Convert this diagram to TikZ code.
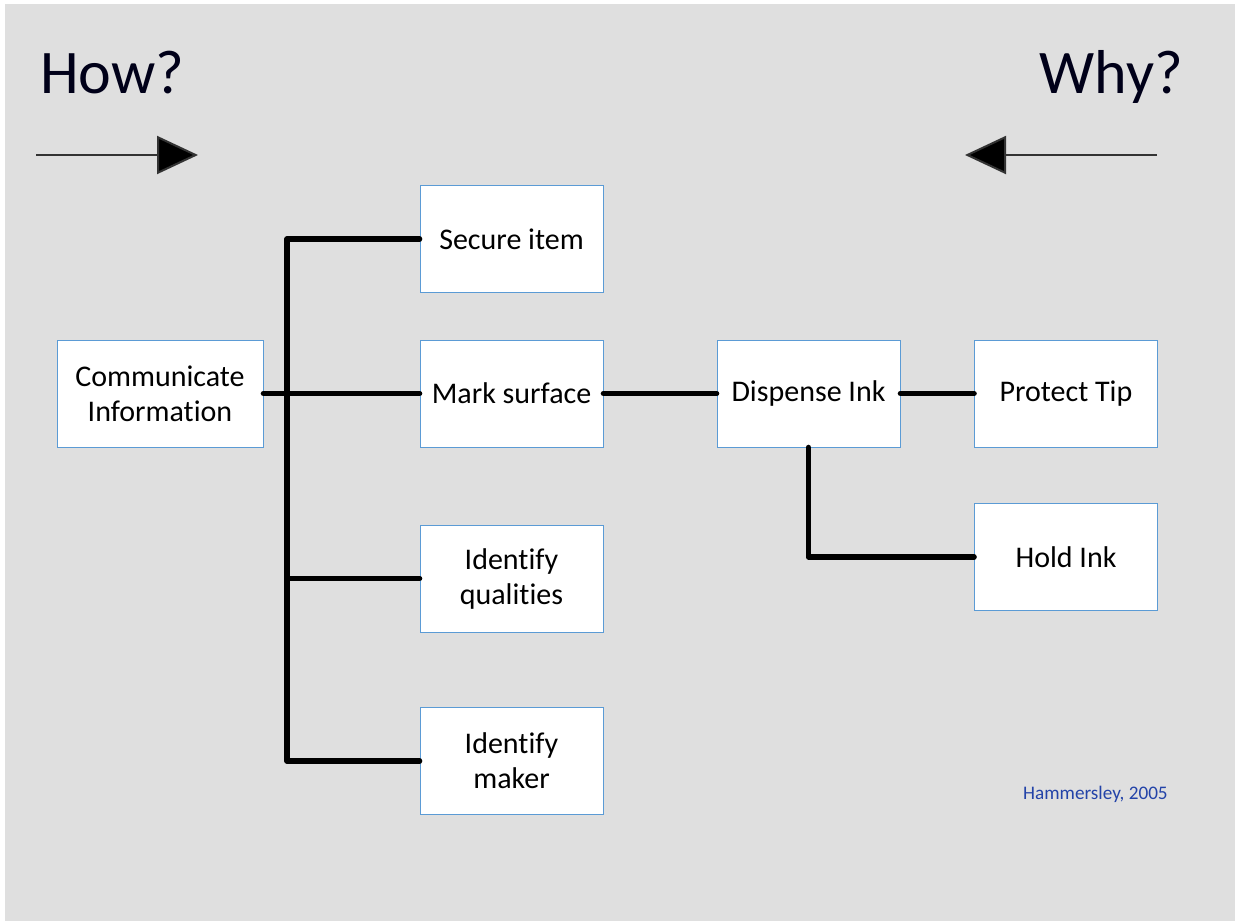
\documentclass[tikz,border=0pt]{standalone}
\usepackage{fontspec}
\setmainfont[Ligatures=NoCommon]{Carlito}
\usetikzlibrary{arrows.meta}
\definecolor{panel}{HTML}{DFDFDF}
\definecolor{boxline}{HTML}{5B9BD5}
\definecolor{credit}{HTML}{2343A8}
\tikzset{
  fbox/.style={draw=boxline, line width=0.9pt, fill=white, inner sep=0pt,
    minimum width=183pt, minimum height=107pt, align=center,
    font=\fontsize{30}{35}\selectfont},
  link/.style={line width=5.5pt, line cap=round, line join=round, black},
  dirarrow/.style={line width=2pt, draw=black!80,
    -{Triangle[length=41pt,width=38pt,fill=black]}},
  heading/.style={font=\fontsize{62}{70}\selectfont, text=black!90!blue, inner sep=0pt}
}
\begin{document}
\begin{tikzpicture}[x=1pt,y=-1pt]
  % page and grey panel
  \fill[white] (0,0) rectangle (1239,921);
  \fill[panel] (5,4) rectangle (1235,921);
  \useasboundingbox (0,0) rectangle (1239,921);

  % headings and direction arrows
  \node[heading, anchor=base west] (how) at (40,93) {How?};
  \node[heading, anchor=base east] (why) at (1183,93) {Why?};
  \coordinate (howA) at (36,155);
  \coordinate (howB) at (198,155);
  \coordinate (whyA) at (1157,155);
  \coordinate (whyB) at (965,155);
  \draw[dirarrow] (howA) -- (howB);
  \draw[dirarrow] (whyA) -- (whyB);

  % function boxes
  \node[fbox, minimum width=206pt] (comm) at (160,393.5) {Communicate\\Information};
  \node[fbox] (secure) at (511.5,239) {Secure item};
  \node[fbox] (mark) at (511.5,393.5) {Mark surface};
  \node[fbox] (qual) at (511.5,578.5) {Identify\\qualities};
  \node[fbox] (maker) at (511.5,761) {Identify\\maker};
  \node[fbox] (disp) at (808.5,393.5) {Dispense Ink};
  \node[fbox] (tip) at (1066,393.5) {Protect Tip};
  \node[fbox] (hold) at (1066,557) {Hold Ink};

  % connectors
  \coordinate (trunk) at (287,238);
  \draw[link] (comm.east) -- (mark.west);
  \draw[link] (secure.west) -- (secure.west -| trunk) -- (maker.west -| trunk) -- (maker.west);
  \draw[link] (qual.west -| trunk) -- (qual.west);
  \draw[link] (mark.east) -- (disp.west);
  \draw[link] (disp.east) -- (tip.west);
  \draw[link] (disp.south) |- (hold.west);

  % credit
  \node[anchor=base west, inner sep=0pt, text=credit, font=\fontsize{19.2}{22}\selectfont] (credit) at (1023,799) {Hammersley, 2005};
\end{tikzpicture}
\end{document}
